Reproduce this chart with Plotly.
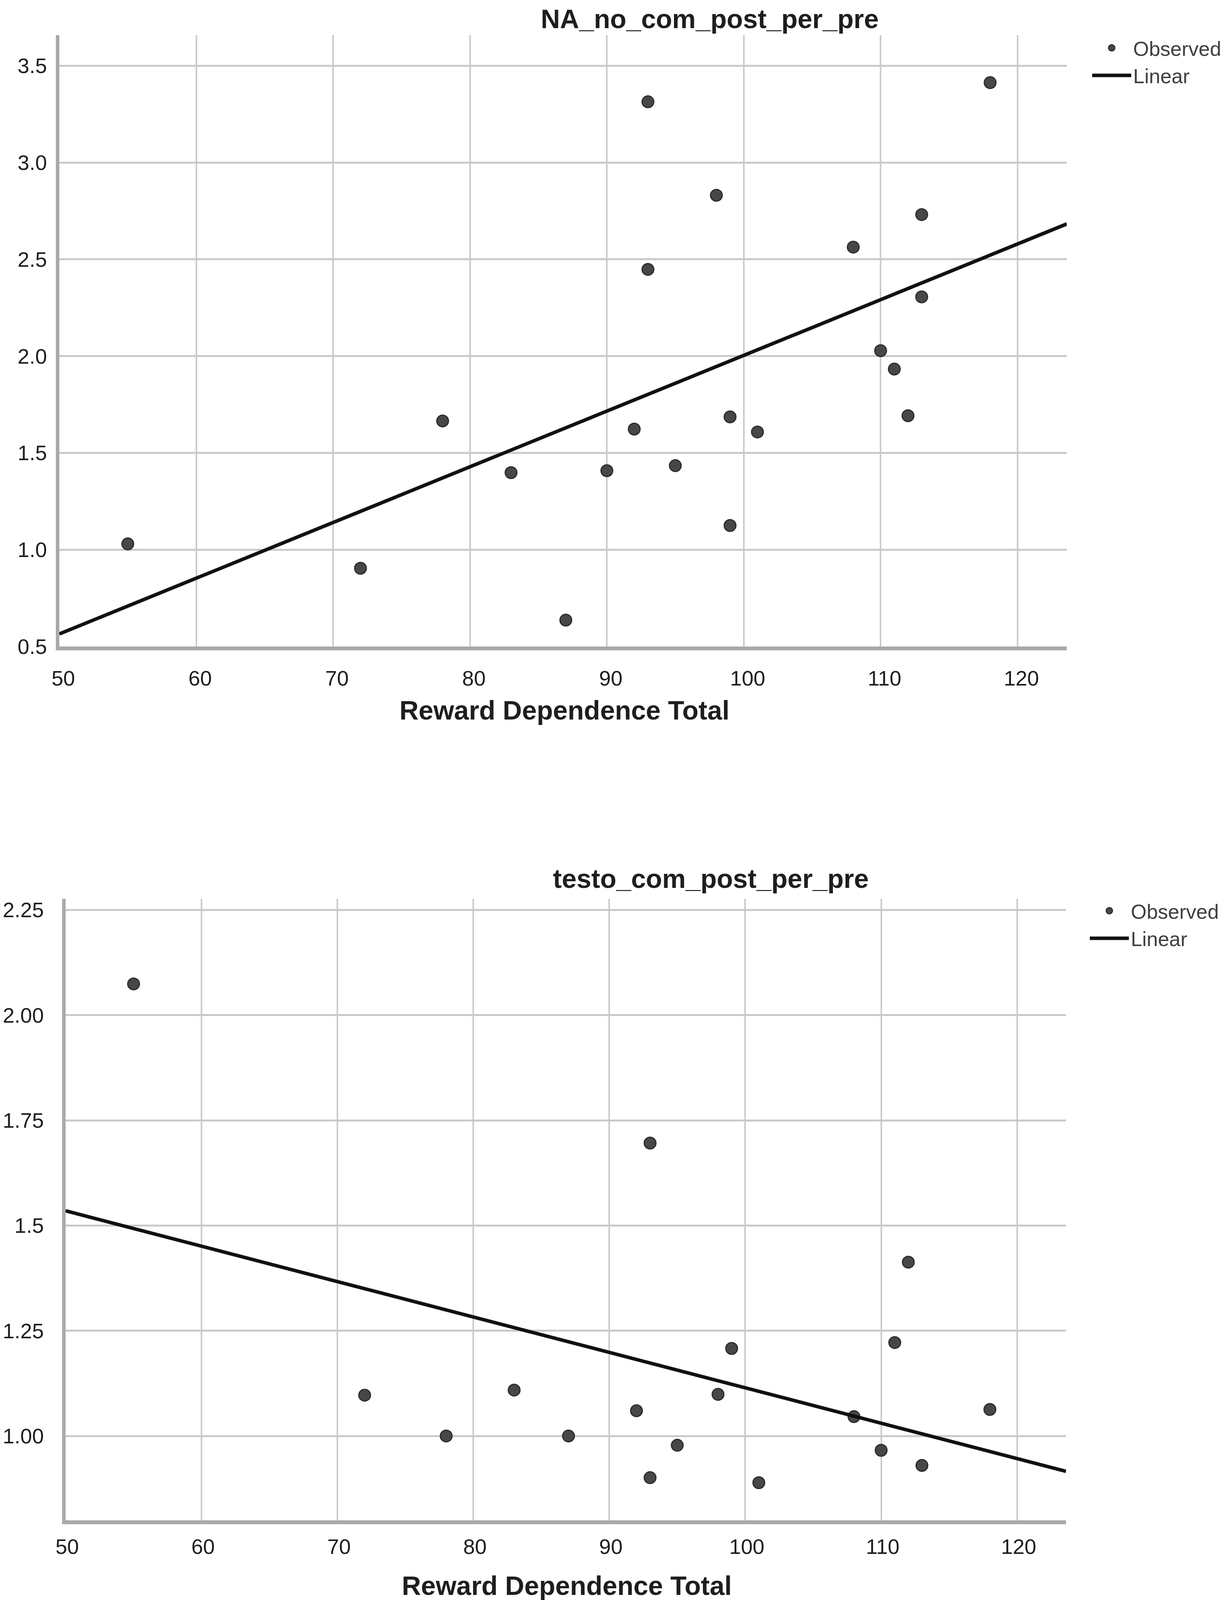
import numpy as np
import plotly.graph_objects as go

# ---------------- data ----------------
rd_top = [55, 72, 78, 83, 87, 90, 92, 93, 93, 95, 98, 99, 99, 101, 108, 110, 111, 112, 113, 113, 118]
na_top = [1.03, 0.904, 1.665, 1.398, 0.636, 1.408, 1.623, 3.314, 2.448, 1.434, 2.831, 1.686, 1.125,
          1.608, 2.563, 2.028, 1.933, 1.692, 2.731, 2.306, 3.413]

rd_bot = [55, 72, 78, 83, 87, 92, 93, 93, 95, 98, 99, 101, 108, 110, 111, 112, 113, 118]
testo_bot = [2.074, 1.097, 1.00, 1.109, 1.00, 1.060, 1.696, 0.901, 0.978, 1.099, 1.208, 0.889,
             1.046, 0.966, 1.222, 1.413, 0.930, 1.063]

title_top = "NA_no_com_post_per_pre"
title_bot = "testo_com_post_per_pre"
x_title = "Reward Dependence Total"

x_ticks = [50, 60, 70, 80, 90, 100, 110, 120]
y_ticks_top = [0.5, 1.0, 1.5, 2.0, 2.5, 3.0, 3.5]
y_ticktext_top = ["0.5", "1.0", "1.5", "2.0", "2.5", "3.0", "3.5"]
y_ticks_bot = [1.00, 1.25, 1.5, 1.75, 2.00, 2.25]
y_ticktext_bot = ["1.00", "1.25", "1.5", "1.75", "2.00", "2.25"]

x_range = [50, 123.6]
y_range_top = [0.5, 3.659]
y_range_bot = [0.8, 2.276]

# ---------------- figure ----------------
W = 3150
REF_H = 4417          # layout measured on the 3150x4417 reference
H = 4096              # visible capture height; keep all layout as fractions of the reference
K = H / REF_H
FONT = "Liberation Sans, Arial, sans-serif"
marker_style = dict(size=30, color="#474747", line=dict(color="#2b2b2b", width=3))
line_style = dict(color="#111111", width=9)

fig = go.Figure()

def fit_line(xs, ys):
    b, a = np.polyfit(np.array(xs, float), np.array(ys, float), 1)
    xl = np.array(x_range, float)
    return xl, a + b * xl

fig.add_trace(go.Scatter(x=rd_top, y=na_top, mode="markers", name="Observed",
                         marker=marker_style, xaxis="x", yaxis="y", legend="legend"))
xl, yl = fit_line(rd_top, na_top)
fig.add_trace(go.Scatter(x=xl, y=yl, mode="lines", name="Linear", line=line_style,
                         xaxis="x", yaxis="y", legend="legend"))
fig.add_trace(go.Scatter(x=rd_bot, y=testo_bot, mode="markers", name="Observed",
                         marker=marker_style, xaxis="x2", yaxis="y2", legend="legend2"))
xl2, yl2 = fit_line(rd_bot, testo_bot)
fig.add_trace(go.Scatter(x=xl2, y=yl2, mode="lines", name="Linear", line=line_style,
                         xaxis="x2", yaxis="y2", legend="legend2"))

def px_x(p):
    return p / W

def px_y(p):
    return 1 - p / REF_H

tick_font = dict(family=FONT, size=54, color="#1e1e1e")
axis_common = dict(showgrid=True, gridcolor="#cacaca", showline=True, linecolor="#a9a9a9",
                   zeroline=False, ticks="", tickfont=tick_font, fixedrange=True,
                   automargin=False)

fig.update_layout(
    width=W, height=H, autosize=False,
    margin=dict(l=0, r=0, t=0, b=0, pad=0),
    paper_bgcolor="white", plot_bgcolor="white",
    xaxis=dict(domain=[px_x(144), px_x(2724)], range=x_range, anchor="y",
               tickvals=x_ticks, ticktext=[str(v) for v in x_ticks],
               gridwidth=4, linewidth=10, ticklabelstandoff=int(28 * K), ticklabelshift=10,
               **axis_common),
    yaxis=dict(domain=[px_y(1776), px_y(88)], range=y_range_top, anchor="x",
               tickvals=y_ticks_top, ticktext=y_ticktext_top,
               gridwidth=5, linewidth=9, ticklabelstandoff=12, **axis_common),
    xaxis2=dict(domain=[px_x(160), px_x(2722)], range=x_range, anchor="y2",
                tickvals=x_ticks, ticktext=[str(v) for v in x_ticks],
                gridwidth=4, linewidth=10, ticklabelstandoff=int(14 * K), ticklabelshift=4,
                **axis_common),
    yaxis2=dict(domain=[px_y(4188), px_y(2473)], range=y_range_bot, anchor="x2",
                tickvals=y_ticks_bot, ticktext=y_ticktext_bot,
                gridwidth=5, linewidth=9, ticklabelstandoff=36, **axis_common),
    legend=dict(x=px_x(2784), y=px_y(80), xanchor="left", yanchor="top",
                font=dict(family=FONT, size=52, color="#404040"),
                itemwidth=100, bgcolor="rgba(0,0,0,0)", borderwidth=0,
                tracegroupgap=0),
    legend2=dict(x=px_x(2778), y=px_y(2462), xanchor="left", yanchor="top",
                 font=dict(family=FONT, size=52, color="#404040"),
                 itemwidth=100, bgcolor="rgba(0,0,0,0)", borderwidth=0,
                 tracegroupgap=0),
    showlegend=True,
)

title_font = dict(family=FONT, size=68, color="#1e1e1e")
anns = [
    dict(text="<b>%s</b>" % title_top, x=px_x(1810), y=1.0, yanchor="top"),
    dict(text="<b>%s</b>" % title_bot, x=px_x(1812), y=px_y(2417), yanchor="middle"),
    dict(text="<b>%s</b>" % x_title, x=px_x(1437), y=px_y(1952), yanchor="middle"),
    dict(text="<b>%s</b>" % x_title, x=px_x(1443), y=px_y(4369), yanchor="middle"),
]
for a in anns:
    fig.add_annotation(xref="paper", yref="paper", xanchor="center",
                       showarrow=False, font=title_font, **a)

fig.write_html("out.html")
